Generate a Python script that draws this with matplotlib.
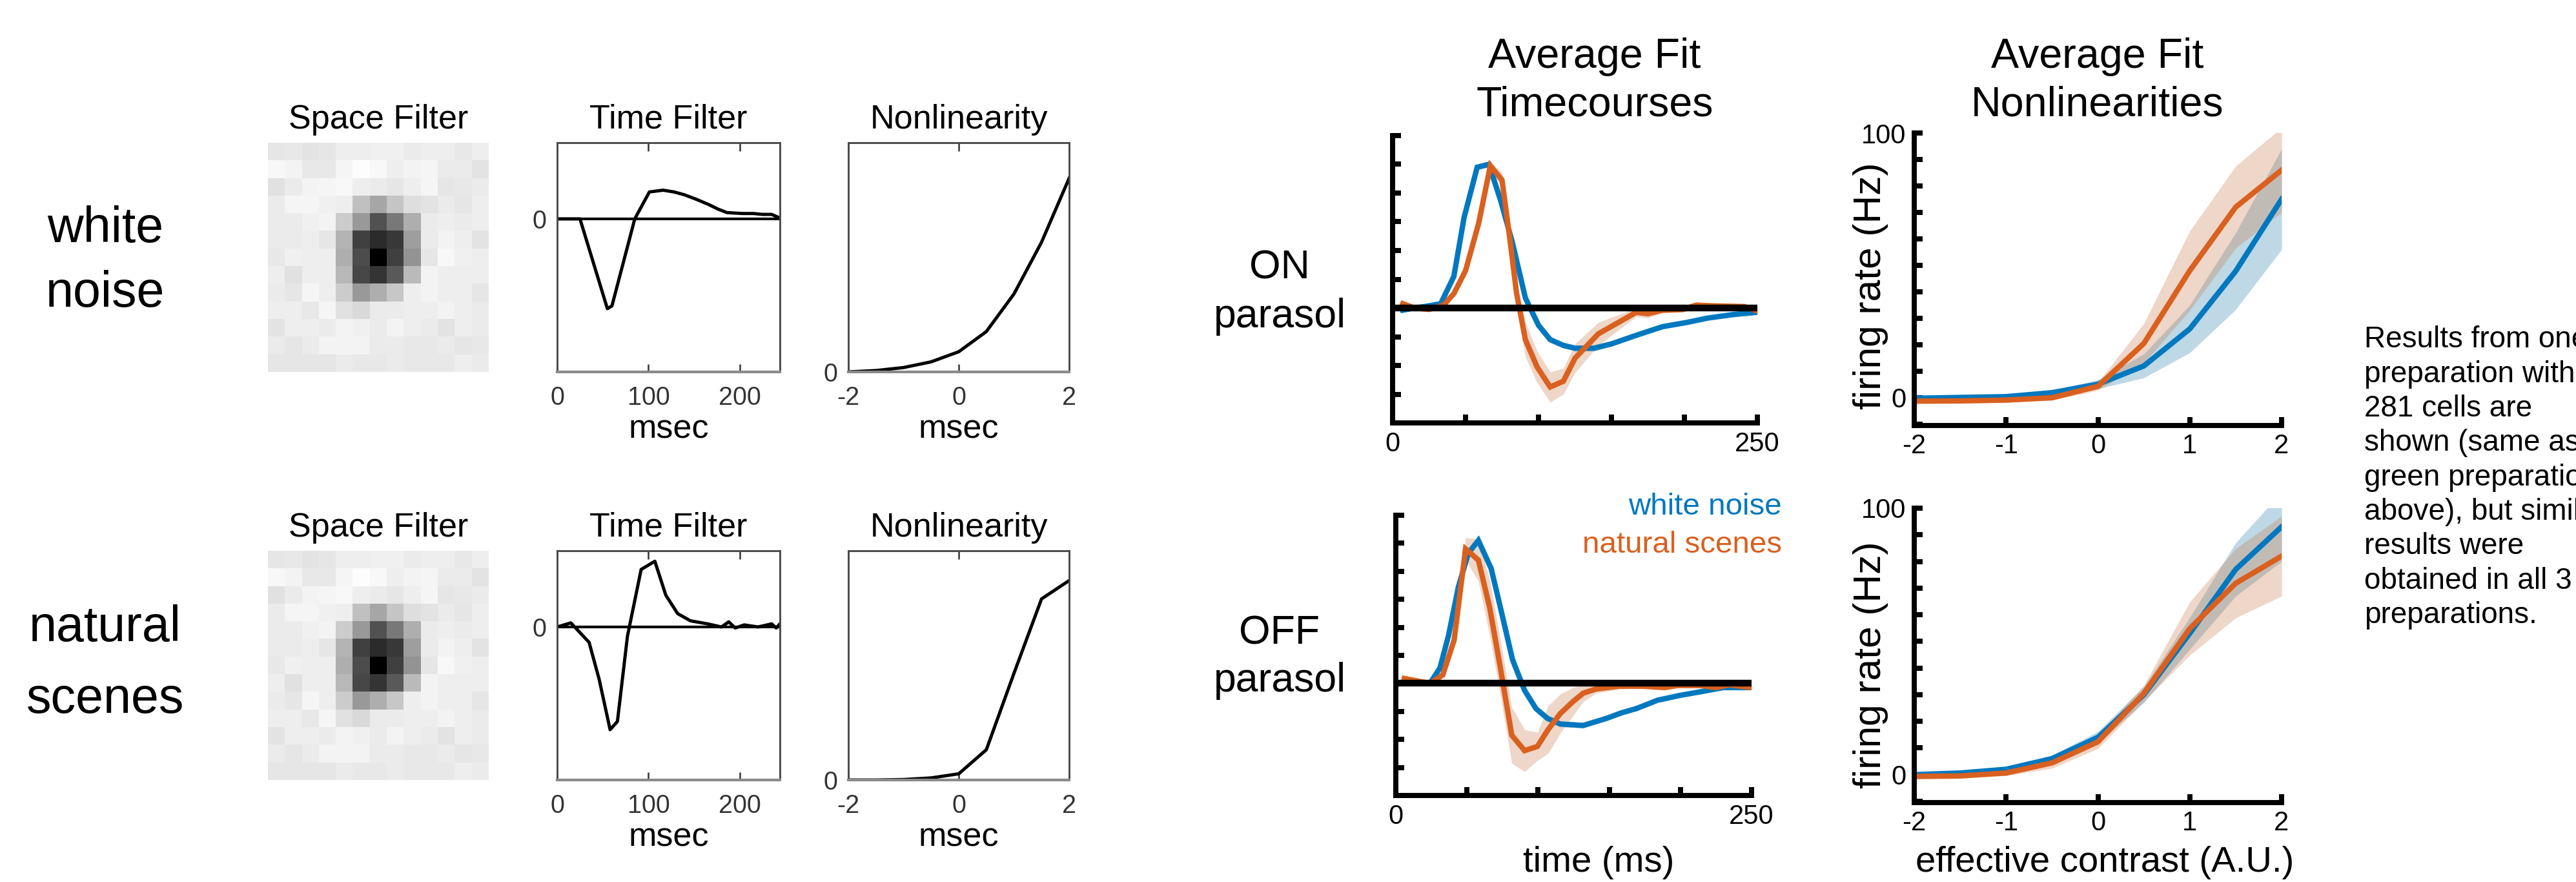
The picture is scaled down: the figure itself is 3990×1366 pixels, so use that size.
import numpy as np
import matplotlib
matplotlib.use('Agg')
import matplotlib.pyplot as plt

plt.rcParams['font.family'] = ['Liberation Sans', 'DejaVu Sans']
plt.rcParams['axes.unicode_minus'] = False

# ---------------- data ----------------
space_filter = [
    [0.90, 0.91, 0.89, 0.90, 0.93, 0.93, 0.94, 0.94, 0.92, 0.93, 0.93, 0.91, 0.93],
    [0.97, 0.95, 0.91, 0.91, 0.96, 0.99, 0.97, 0.93, 0.95, 0.96, 0.92, 0.92, 0.89],
    [0.88, 0.92, 0.95, 0.96, 0.97, 0.93, 0.92, 0.90, 0.93, 0.96, 0.90, 0.91, 0.92],
    [0.92, 0.96, 0.96, 0.94, 0.93, 0.75, 0.65, 0.77, 0.87, 0.89, 0.92, 0.90, 0.93],
    [0.92, 0.92, 0.94, 0.95, 0.80, 0.60, 0.32, 0.47, 0.68, 0.92, 0.93, 0.92, 0.93],
    [0.92, 0.92, 0.93, 0.90, 0.70, 0.25, 0.17, 0.22, 0.62, 0.92, 0.95, 0.93, 0.89],
    [0.91, 0.94, 0.93, 0.93, 0.68, 0.30, 0.00, 0.25, 0.58, 0.90, 0.97, 0.94, 0.93],
    [0.93, 0.88, 0.93, 0.93, 0.72, 0.28, 0.21, 0.35, 0.73, 0.95, 0.93, 0.93, 0.93],
    [0.92, 0.90, 0.96, 0.93, 0.80, 0.60, 0.68, 0.78, 0.93, 0.95, 0.93, 0.93, 0.90],
    [0.93, 0.93, 0.91, 0.96, 0.88, 0.85, 0.92, 0.92, 0.93, 0.93, 0.95, 0.93, 0.92],
    [0.89, 0.93, 0.93, 0.92, 0.95, 0.94, 0.92, 0.95, 0.93, 0.92, 0.89, 0.93, 0.92],
    [0.92, 0.90, 0.92, 0.95, 0.95, 0.95, 0.92, 0.92, 0.91, 0.91, 0.92, 0.90, 0.91],
    [0.90, 0.90, 0.90, 0.90, 0.92, 0.91, 0.91, 0.92, 0.91, 0.91, 0.91, 0.93, 0.92],
]

# example-cell time filters (arbitrary units, trough = -1)
tf_wn_t = [0, 12, 25, 55, 60, 85, 101, 116, 128, 139, 152, 166, 176, 186, 203, 215, 225, 235, 244]
tf_wn_v = [0, 0, 0, -1.0, -0.97, 0.0, 0.30, 0.32, 0.30, 0.27, 0.22, 0.16, 0.11, 0.07, 0.06, 0.06, 0.05, 0.05, 0.01]
tf_ns_t = [0, 15, 35, 46, 58, 66, 77, 92, 107, 119, 132, 146, 165, 180, 188, 195, 205, 220, 235, 240, 244]
tf_ns_v = [0, 0.04, -0.15, -0.51, -1.0, -0.92, -0.09, 0.56, 0.64, 0.31, 0.13, 0.06, 0.03, 0.0, 0.05, -0.01,
           0.02, 0.0, 0.03, -0.01, 0.03]

# example-cell nonlinearities (fraction of axis height)
nl_x = [-2, -1.5, -1, -0.5, 0, 0.5, 1, 1.5, 2]
nl_wn_v = [0, 0.006, 0.019, 0.044, 0.088, 0.176, 0.34, 0.566, 0.845]
nl_ns_v = [0, 0.0, 0.002, 0.009, 0.027, 0.132, 0.465, 0.79, 0.87]

# average fit timecourses (normalized)
on_wn_t = [7, 15, 25, 33, 42, 49, 58, 66, 74, 82, 91, 100, 108, 117, 125, 138, 150, 167, 176, 185, 202, 216, 234, 250]
on_wn_v = [-0.015, 0.0, 0.015, 0.03, 0.22, 0.63, 0.98, 1.0, 0.75, 0.46, 0.07, -0.12, -0.22, -0.26, -0.28, -0.28,
           -0.25, -0.19, -0.16, -0.13, -0.10, -0.07, -0.045, -0.03]
on_wn_err = [0.015, 0.015, 0.015, 0.015, 0.015, 0.015, 0.02, 0.02, 0.02, 0.02, 0.02, 0.02, 0.02, 0.02, 0.02, 0.02,
             0.015, 0.015, 0.015, 0.015, 0.015, 0.015, 0.015, 0.015]
on_ns_t = [7, 15, 25, 35, 42, 50, 59, 67, 75, 80, 85, 91, 99, 108, 117, 125, 141, 167, 175, 185, 199, 208, 220, 241, 250]
on_ns_v = [0.03, 0.0, -0.01, 0.02, 0.10, 0.26, 0.59, 0.99, 0.89, 0.51, 0.10, -0.22, -0.41, -0.55, -0.51, -0.35,
           -0.18, -0.03, -0.04, -0.015, -0.01, 0.02, 0.015, 0.01, -0.02]
on_ns_err = [0.015, 0.015, 0.015, 0.015, 0.02, 0.03, 0.04, 0.03, 0.05, 0.06, 0.08, 0.12, 0.11, 0.105, 0.09, 0.10,
             0.08, 0.03, 0.03, 0.02, 0.02, 0.02, 0.02, 0.015, 0.015]

off_wn_t = [2, 24, 31, 37, 44, 51, 58, 67, 74, 82, 90.5, 98.5, 106.6, 115.6, 131.7, 148, 158.6, 169, 184, 200, 214, 230, 250]
off_wn_v = [0, 0, 0.11, 0.34, 0.69, 0.93, 1.02, 0.82, 0.52, 0.17, -0.05, -0.18, -0.25, -0.29, -0.30, -0.25, -0.21,
            -0.18, -0.12, -0.085, -0.06, -0.03, -0.03]
off_wn_err = [0.015, 0.015, 0.015, 0.015, 0.015, 0.02, 0.02, 0.02, 0.02, 0.02, 0.02, 0.02, 0.02, 0.02, 0.02, 0.015,
              0.015, 0.015, 0.015, 0.015, 0.015, 0.015, 0.015]
off_ns_t = [6, 24, 33, 41, 49, 58, 66, 73.5, 81.5, 90.5, 99.5, 107, 115.6, 124.5, 131.7, 140.7, 157, 173, 189, 198, 214,
            225, 234, 250]
off_ns_v = [0.035, 0, 0.06, 0.31, 0.96, 0.88, 0.54, 0.11, -0.37, -0.48, -0.45, -0.33, -0.215, -0.13, -0.07, -0.04,
            -0.02, -0.02, -0.03, -0.015, -0.015, -0.03, -0.01, -0.03]
off_ns_err = [0.015, 0.015, 0.02, 0.04, 0.08, 0.15, 0.2, 0.2, 0.2, 0.15, 0.1, 0.17, 0.14, 0.1, 0.06, 0.03, 0.02,
              0.015, 0.015, 0.015, 0.015, 0.015, 0.015, 0.015]

# average fit nonlinearities (Hz)
contrast = [-2, -1.5, -1, -0.5, 0, 0.5, 1, 1.5, 2]
on_nl_wn = [-0.2, 0.1, 0.4, 1.9, 5.1, 12, 26, 47.8, 75]
on_nl_wn_err = [0.5, 0.5, 0.5, 0.8, 1.7, 4.5, 9, 14.5, 19]
on_nl_ns = [-1.3, -1.2, -0.9, 0, 4.3, 20.5, 48, 72, 86]
on_nl_ns_err = [0.8, 0.8, 0.8, 1, 1.5, 7.5, 15, 15.5, 16]
off_nl_wn = [0, 0.6, 2, 6, 14, 30, 53, 77, 93]
off_nl_wn_err = [0.5, 0.5, 0.8, 1.2, 2.2, 3, 6, 10, 13]
off_nl_ns = [-0.7, -0.5, 0.6, 4.4, 12.3, 30.5, 54.8, 71.8, 82]
off_nl_ns_err = [0.6, 0.6, 1, 2, 2.5, 3, 10, 13, 15]

row_labels = [("white", "noise"), ("natural", "scenes")]
cell_labels = [("ON", "parasol"), ("OFF", "parasol")]
note_lines = ["Results from one", "preparation with", "281 cells are", "shown (same as",
              "green preparation", "above), but similar", "results were", "obtained in all 3",
              "preparations."]

BLUE = '#0078BF'
ORANGE = '#DA601F'
BLUE_FILL = '#2A7FAF'
ORANGE_FILL = '#C87A4A'

# ---------------- figure ----------------
W, H = 3990, 1366
fig = plt.figure(figsize=(W / 300, H / 300), dpi=300)


def add_ax(x0, y0, x1, y1):
    return fig.add_axes([x0 / W, 1 - y1 / H, (x1 - x0) / W, (y1 - y0) / H])


def ftext(x, y, s, **kw):
    return fig.text(x / W, 1 - y / H, s, **kw)


GRAY = '#333333'
rows = [(221, 576), (853, 1208)]
tf_data = [(tf_wn_t, tf_wn_v, (-1.705, 0.849)), (tf_ns_t, tf_ns_v, (-1.49, 0.742))]
nl_data = [nl_wn_v, nl_ns_v]
row_label_base = [(375, 475), (993, 1104)]

for r, (y0, y1) in enumerate(rows):
    # space filter
    ax = add_ax(415, y0, 757, y1)
    ax.imshow(np.array(space_filter), cmap='gray', vmin=0, vmax=1, aspect='auto', interpolation='nearest')
    ax.axis('off')
    ax.set_title('Space Filter', fontsize=12.5, y=1.063, pad=0)

    # time filter
    ax = add_ax(863, y0, 1208, y1)
    t, v, yl = tf_data[r]
    ax.axhline(0, color='k', lw=1.0)
    ax.plot(t, v, color='k', lw=1.2)
    ax.set_xlim(0, 244)
    ax.set_ylim(*yl)
    ax.set_xticks([0, 100, 200])
    ax.set_yticks([0])
    ax.set_title('Time Filter', fontsize=12.5, y=1.063, pad=0)
    ax.set_xlabel('msec', fontsize=12.5, va='baseline')
    ax.xaxis.set_label_coords(0.5, -0.289)

    # nonlinearity
    ax2 = add_ax(1314, y0, 1656, y1)
    ax2.plot(nl_x, nl_data[r], color='k', lw=1.2)
    ax2.set_xlim(-2, 2)
    ax2.set_ylim(0, 1)
    ax2.set_xticks([-2, 0, 2])
    ax2.set_yticks([0])
    ax2.set_title('Nonlinearity', fontsize=12.5, y=1.063, pad=0)
    ax2.set_xlabel('msec', fontsize=12.5, va='baseline')
    ax2.xaxis.set_label_coords(0.5, -0.289)

    for a in (ax, ax2):
        a.tick_params(direction='in', length=3, width=0.6, top=True, right=True,
                      color=GRAY, labelcolor=GRAY, labelsize=9.5)
        a.tick_params(axis='x', pad=5)
        a.tick_params(axis='y', pad=4)
        for sp in a.spines.values():
            sp.set_color('#4a4a4a')
            sp.set_linewidth(0.7)
        a.spines['bottom'].set_color('#8a8a8a')
        a.spines['bottom'].set_linewidth(1.0)

    # row label
    l1, l2 = row_labels[r]
    b1, b2 = row_label_base[r]
    ftext(163, b1, l1, fontsize=18.5, ha='center', va='baseline')
    ftext(163, b2, l2, fontsize=18.5, ha='center', va='baseline')

# ---------------- right side ----------------
time_axes = [(2157, 210, 2722, 655), (2162, 798, 2713, 1232)]
nl_axes = [(2965, 206, 3534, 659), (2965, 787, 3534, 1243)]
tc_data = [
    (on_wn_t, on_wn_v, on_wn_err, on_ns_t, on_ns_v, on_ns_err),
    (off_wn_t, off_wn_v, off_wn_err, off_ns_t, off_ns_v, off_ns_err),
]
nlr_data = [
    (on_nl_wn, on_nl_wn_err, on_nl_ns, on_nl_ns_err),
    (off_nl_wn, off_nl_wn_err, off_nl_ns, off_nl_ns_err),
]
cell_base = [(431, 507), (997, 1071)]
ylabel_y = [0.477, 0.467]


def style_thick(a):
    a.spines['top'].set_visible(False)
    a.spines['right'].set_visible(False)
    for s in ('left', 'bottom'):
        a.spines[s].set_linewidth(1.9)
        a.spines[s].set_color('k')
    a.tick_params(direction='in', length=3.2, width=1.9, color='k', labelsize=10, pad=3)


for r in range(2):
    # timecourses
    a = add_ax(*time_axes[r])
    wt, wv, we, nt, nv, ne = tc_data[r]
    wv, we, nv, ne = map(np.array, (wv, we, nv, ne))
    a.fill_between(wt, wv - we, wv + we, color=BLUE_FILL, alpha=0.3, lw=0)
    a.plot(wt, wv, color=BLUE, lw=2.0, solid_joinstyle='miter')
    a.fill_between(nt, nv - ne, nv + ne, color=ORANGE_FILL, alpha=0.3, lw=0)
    a.plot(nt, nv, color=ORANGE, lw=2.0, solid_joinstyle='miter')
    a.axhline(0, color='k', lw=2.5)
    a.set_xlim(0, 250)
    a.set_ylim(-0.8, 1.2)
    a.set_xticks([0, 50, 100, 150, 200, 250])
    a.set_xticklabels(['0', '', '', '', '', '250'])
    a.set_yticks(np.linspace(-0.8, 1.2, 11))
    a.set_yticklabels([])
    style_thick(a)
    if r == 1:
        a.set_xlabel('time (ms)', fontsize=13.5, va='baseline')
        a.xaxis.set_label_coords(0.571, -0.272)

    # nonlinearities
    b = add_ax(*nl_axes[r])
    wv, we, nv, ne = map(np.array, nlr_data[r])
    b.fill_between(contrast, wv - we, wv + we, color=BLUE_FILL, alpha=0.3, lw=0)
    b.plot(contrast, wv, color=BLUE, lw=2.0)
    b.fill_between(contrast, nv - ne, nv + ne, color=ORANGE_FILL, alpha=0.3, lw=0)
    b.plot(contrast, nv, color=ORANGE, lw=2.0)
    b.set_xlim(-2, 2)
    b.set_ylim(-10.5, 100)
    b.set_xticks([-2, -1, 0, 1, 2])
    b.set_yticks(list(range(-10, 101, 10)))
    b.set_yticklabels(['' if v not in (0, 100) else str(v) for v in range(-10, 101, 10)])
    style_thick(b)
    b.set_ylabel('firing rate (Hz)', fontsize=14.5)
    b.yaxis.set_label_coords(-0.070, ylabel_y[r])
    if r == 1:
        b.set_xlabel('effective contrast (A.U.)', fontsize=13.5, va='baseline')
        b.xaxis.set_label_coords(0.518, -0.235)

    c1, c2 = cell_labels[r]
    b1, b2 = cell_base[r]
    ftext(1982, b1, c1, fontsize=15, ha='center', va='baseline')
    ftext(1982, b2, c2, fontsize=15, ha='center', va='baseline')

# column titles
ftext(2470, 105, 'Average Fit', fontsize=15.5, ha='center', va='baseline')
ftext(2470, 179, 'Timecourses', fontsize=15.5, ha='center', va='baseline')
ftext(3249, 105, 'Average Fit', fontsize=15.5, ha='center', va='baseline')
ftext(3249, 180, 'Nonlinearities', fontsize=15.5, ha='center', va='baseline')

# legend text
ftext(2760, 797, 'white noise', fontsize=11.4, color=BLUE, ha='right', va='baseline')
ftext(2760, 856, 'natural scenes', fontsize=11.4, color=ORANGE, ha='right', va='baseline')

# side note (runs off the right edge, as in the original slide)
for i, line in enumerate(note_lines):
    ftext(3662, 538.3 + 53.33 * i, line, fontsize=11, ha='left', va='baseline')

fig.savefig('out.png', dpi=300, facecolor='white')
